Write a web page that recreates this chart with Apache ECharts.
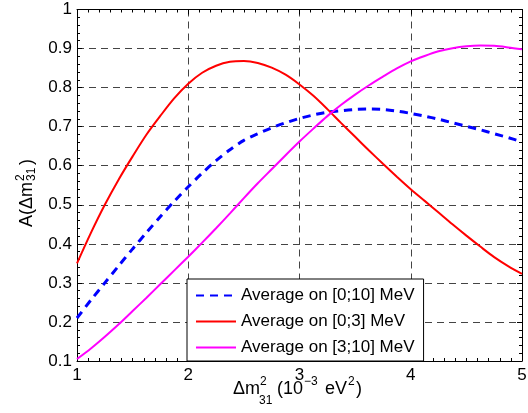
<!DOCTYPE html>
<html>
<head>
<meta charset="utf-8">
<script src="https://cdn.jsdelivr.net/npm/echarts@6/dist/echarts.min.js"></script>
<style>
html,body{margin:0;padding:0;background:#fff;}
#c{width:528px;height:413px;}
</style>
</head>
<body>
<div id="c"></div>
<script>
// ---- data ----
const xTicks = [1, 2, 3, 4, 5];
const yTicks = [0.1, 0.2, 0.3, 0.4, 0.5, 0.6, 0.7, 0.8, 0.9, 1];

const seriesNames = ['Average on [0;10] MeV', 'Average on [0;3] MeV', 'Average on [3;10] MeV'];

// sample positions (10^-3 eV^2)
const xs = [1.0, 1.125, 1.25, 1.375, 1.5, 1.625, 1.75, 1.875, 2.0, 2.125, 2.25, 2.375, 2.5, 2.625, 2.75, 2.875,
            3.0, 3.125, 3.25, 3.375, 3.5, 3.625, 3.75, 3.875, 4.0, 4.125, 4.25, 4.375, 4.5, 4.625, 4.75, 4.875, 5.0];

// Average on [0;10] MeV (blue dashed)
const yAll  = [0.210, 0.256, 0.300, 0.344, 0.387, 0.429, 0.470, 0.509, 0.546, 0.581, 0.613, 0.641, 0.665, 0.682, 0.697, 0.710,
               0.721, 0.730, 0.737, 0.741, 0.744, 0.745, 0.744, 0.740, 0.734, 0.727, 0.719, 0.710, 0.701, 0.692, 0.682, 0.672, 0.661];
// Average on [0;3] MeV (red)
const yLow  = [0.350, 0.428, 0.500, 0.565, 0.624, 0.680, 0.728, 0.773, 0.810, 0.838, 0.856, 0.866, 0.868, 0.863, 0.851, 0.833,
               0.808, 0.779, 0.745, 0.709, 0.674, 0.639, 0.605, 0.572, 0.540, 0.510, 0.480, 0.450, 0.421, 0.393, 0.366, 0.343, 0.323];
// Average on [3;10] MeV (magenta)
const yHigh = [0.105, 0.132, 0.162, 0.194, 0.228, 0.262, 0.297, 0.332, 0.367, 0.403, 0.440, 0.478, 0.517, 0.555, 0.591, 0.627,
               0.662, 0.695, 0.727, 0.756, 0.782, 0.806, 0.828, 0.849, 0.867, 0.881, 0.893, 0.901, 0.906, 0.908, 0.907, 0.903, 0.898];

const zip = (xv, yv) => xv.map((x, i) => [x, yv[i]]);

const FONT = "'Liberation Sans', Arial, Helvetica, sans-serif";

const chart = echarts.init(document.getElementById('c'), null, {renderer: 'canvas'});

const commonX = {
  type: 'value', min: xTicks[0], max: xTicks[xTicks.length - 1], interval: 1,
  axisLine: {show: true, onZero: false, lineStyle: {color: '#000', width: 1}},
  axisTick: {show: true, inside: true, length: 5, lineStyle: {color: '#000'}},
  minorTick: {show: true, splitNumber: 10, length: 3, lineStyle: {color: '#000'}},
};
const commonY = {
  type: 'value', min: yTicks[0], max: yTicks[yTicks.length - 1], interval: 0.1,
  axisLine: {show: true, onZero: false, lineStyle: {color: '#000', width: 1}},
  axisTick: {show: true, inside: true, length: 5, lineStyle: {color: '#000'}},
  minorTick: {show: true, splitNumber: 5, length: 3, lineStyle: {color: '#000'}},
};
const gridDash = {show: true, lineStyle: {color: '#444', width: 1, type: [7, 5]}};

const mkSeries = (name, data, color, width, type) => ({
  name, type: 'line', data, smooth: 0.3, symbol: 'none', symbolSize: 0,
  lineStyle: {color, width, type}, itemStyle: {color}, z: 3
});

const option = {
  animation: false,
  backgroundColor: '#fff',
  grid: {left: 77, right: 6, top: 9.5, bottom: 52, containLabel: false, outerBoundsMode: 'none'},
  xAxis: [
    Object.assign({}, commonX, {
      position: 'bottom',
      splitLine: gridDash,
      axisLabel: {show: true, margin: 6, fontSize: 17, color: '#000', fontFamily: FONT}
    }),
    Object.assign({}, commonX, {
      position: 'top',
      splitLine: {show: false},
      axisLabel: {show: false}
    })
  ],
  yAxis: [
    Object.assign({}, commonY, {
      position: 'left',
      splitLine: gridDash,
      axisLabel: {show: true, margin: 5, fontSize: 17, color: '#000', fontFamily: FONT,
        formatter: v => String(Math.round(v * 10) / 10)}
    }),
    Object.assign({}, commonY, {
      position: 'right',
      splitLine: {show: false},
      axisLabel: {show: false}
    })
  ],
  legend: {
    orient: 'vertical',
    left: 187, top: 279,
    padding: [8, 9, 5, 8],
    itemWidth: 40, itemHeight: 14, itemGap: 9,
    backgroundColor: '#fff',
    borderColor: '#000', borderWidth: 1,
    itemStyle: {opacity: 0},
    textStyle: {fontSize: 17, color: '#000', fontFamily: FONT},
    data: seriesNames
  },
  series: [
    mkSeries(seriesNames[0], zip(xs, yAll), '#0000ff', 3, [8, 6]),
    mkSeries(seriesNames[1], zip(xs, yLow), '#ff0000', 2, 'solid'),
    mkSeries(seriesNames[2], zip(xs, yHigh), '#ff00ff', 2, 'solid')
  ],
  graphic: [
    {
      type: 'group', x: 0, y: 0, silent: true,
      children: [
        {type: 'text', x: 233, y: 389, style: {text: 'Δm', font: '18px ' + FONT, fill: '#000', verticalAlign: 'middle'}},
        {type: 'text', x: 260, y: 382, style: {text: '2', font: '12px ' + FONT, fill: '#000', verticalAlign: 'middle'}},
        {type: 'text', x: 259, y: 401, style: {text: '31', font: '12px ' + FONT, fill: '#000', verticalAlign: 'middle'}},
        {type: 'text', x: 277, y: 389, style: {text: '(10', font: '18px ' + FONT, fill: '#000', verticalAlign: 'middle'}},
        {type: 'text', x: 304, y: 382, style: {text: '−3', font: '12px ' + FONT, fill: '#000', verticalAlign: 'middle'}},
        {type: 'text', x: 325, y: 389, style: {text: 'eV', font: '18px ' + FONT, fill: '#000', verticalAlign: 'middle'}},
        {type: 'text', x: 348, y: 382, style: {text: '2', font: '12px ' + FONT, fill: '#000', verticalAlign: 'middle'}},
        {type: 'text', x: 356, y: 389, style: {text: ')', font: '18px ' + FONT, fill: '#000', verticalAlign: 'middle'}}
      ]
    },
    {
      type: 'group', x: 27, y: 227, rotation: Math.PI / 2, silent: true,
      children: [
        {type: 'text', x: 0, y: 0, style: {text: 'A(Δm', font: '18px ' + FONT, fill: '#000', verticalAlign: 'middle'}},
        {type: 'text', x: 46, y: -6.5, style: {text: '2', font: '12px ' + FONT, fill: '#000', verticalAlign: 'middle'}},
        {type: 'text', x: 46, y: 5, style: {text: '31', font: '12px ' + FONT, fill: '#000', verticalAlign: 'middle'}},
        {type: 'text', x: 62, y: 0, style: {text: ')', font: '18px ' + FONT, fill: '#000', verticalAlign: 'middle'}}
      ]
    }
  ]
};
chart.setOption(option);
</script>
</body>
</html>
